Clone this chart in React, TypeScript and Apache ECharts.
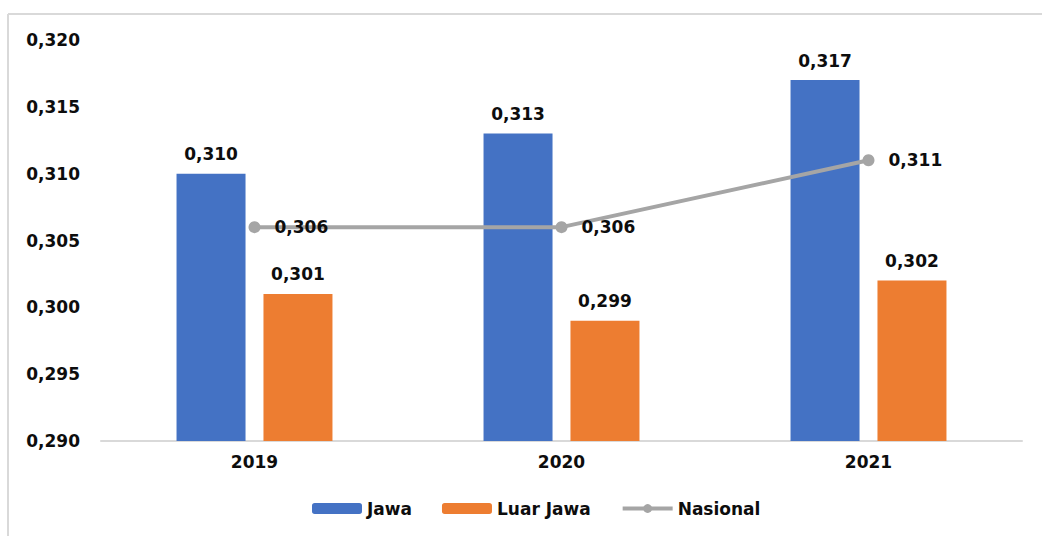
import React, { useEffect, useRef } from "react";
import * as echarts from "echarts";

const categories = ["2019", "2020", "2021"];
const jawa = [0.31, 0.313, 0.317];
const luarJawa = [0.301, 0.299, 0.302];
const nasional = [0.306, 0.306, 0.311];

const fmt = (v: number) => v.toFixed(3).replace(".", ",");
const FONT = "DejaVu Sans";
const FS = 17;

export default function App() {
  const ref = useRef<HTMLDivElement>(null);
  useEffect(() => {
    const chart = echarts.init(ref.current!, null, { renderer: "svg" });
    const labelStyle = {
      show: true,
      fontFamily: FONT,
      fontWeight: "bold" as const,
      fontSize: FS,
      color: "#0d0d0d",
      formatter: (p: any) => fmt(p.value),
    };
    chart.setOption({
      animation: false,
      backgroundColor: "#ffffff",
      textStyle: { fontFamily: FONT },
      graphic: [
        { type: "line", shape: { x1: 8, y1: 14, x2: 1042, y2: 14 }, style: { stroke: "#d9d9d9", lineWidth: 2 } },
        { type: "line", shape: { x1: 8, y1: 14, x2: 8, y2: 536 }, style: { stroke: "#d9d9d9", lineWidth: 2 } },
      ],
      grid: { left: 101, right: 20, top: 40, bottom: 95, containLabel: false },
      legend: {
        bottom: 14,
        left: 307,
        itemWidth: 50,
        itemHeight: 11,
        itemGap: 30,
        textStyle: { fontFamily: FONT, fontWeight: "bold", fontSize: FS, color: "#0d0d0d" },
        data: [
          { name: "Jawa" },
          { name: "Luar Jawa" },
          { name: "Nasional", lineStyle: { width: 4 } },
        ],
      },
      xAxis: {
        type: "category",
        data: categories,
        axisLine: { lineStyle: { color: "#d9d9d9", width: 2 } },
        axisTick: { show: false },
        axisLabel: { fontFamily: FONT, fontWeight: "bold", fontSize: FS, color: "#0d0d0d", margin: 12 },
      },
      yAxis: {
        type: "value",
        min: 0.29,
        max: 0.32,
        interval: 0.005,
        splitLine: { show: false },
        axisLine: { show: false },
        axisTick: { show: false },
        axisLabel: {
          fontFamily: FONT,
          fontWeight: "bold",
          fontSize: FS,
          color: "#0d0d0d",
          margin: 21,
          formatter: (v: number) => fmt(v),
        },
      },
      series: [
        {
          name: "Jawa",
          type: "bar",
          data: jawa,
          barWidth: 69,
          barGap: "26%",
          itemStyle: { color: "#4472C4" },
          label: { ...labelStyle, position: "top", distance: 11 },
        },
        {
          name: "Luar Jawa",
          type: "bar",
          data: luarJawa,
          barWidth: 69,
          barGap: "26%",
          itemStyle: { color: "#ED7D31" },
          label: { ...labelStyle, position: "top", distance: 11 },
        },
        {
          name: "Nasional",
          type: "line",
          data: nasional,
          symbol: "circle",
          symbolSize: 12,
          lineStyle: { color: "#A5A5A5", width: 4 },
          itemStyle: { color: "#A5A5A5" },
          label: { ...labelStyle, position: "right", distance: 14 },
        },
      ],
    });
    return () => chart.dispose();
  }, []);
  return <div ref={ref} style={{ position: "fixed", left: 0, top: 0, width: 1042, height: 536 }} />;
}
